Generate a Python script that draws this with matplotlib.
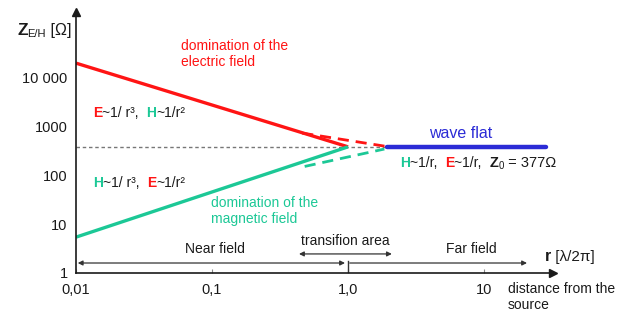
import matplotlib
matplotlib.use('Agg')

import matplotlib.pyplot as plt
import numpy as np

plt.rcParams['font.family'] = ['Liberation Sans', 'DejaVu Sans']

# Wave impedance values (r in lambda/2pi, Z in ohm)
Z0 = 377
r_e_solid = [0.01, 1.0]
z_e_solid = [19300, Z0]
r_e_dash = [0.46, 2.0]
z_e_dash = [720, Z0]
r_h_solid = [0.01, 1.0]
z_h_solid = [5.4, Z0]
r_h_dash = [0.48, 1.85]
z_h_dash = [150, 340]
r_far = [1.94, 28.6]
z_far = [Z0, Z0]

xticks = [0.01, 0.1, 1.0, 10]
xtick_labels = ['0,01', '0,1', '1,0', '10']
yticks = [1, 10, 100, 1000, 10000]
ytick_labels = ['1', '10', '100', '1000', '10 000']

RED = '#ff1414'
GREEN = '#1cc896'
BLUE = '#2b2bd6'
DARK = '#1a1a1a'

W, H = 629, 317
fig = plt.figure(figsize=(W / 100, H / 100), dpi=100)
# axes box in pixels: left 76, x-axis at y=273, arrow tips at x=553 / y=12
ax = fig.add_axes([76 / W, (H - 273) / H, (553 - 76) / W, (273 - 12) / H])
ax.set_xscale('log')
ax.set_yscale('log')
ax.set_xlim(0.01, 10 ** 1.507)
ax.set_ylim(1, 10 ** 5.33)

for s in ['top', 'right']:
    ax.spines[s].set_visible(False)
for s in ['left', 'bottom']:
    ax.spines[s].set_color(DARK)
    ax.spines[s].set_linewidth(1.2)
ax.plot(1, 0, '>', color=DARK, ms=6, transform=ax.transAxes, clip_on=False)
ax.plot(0, 1, '^', color=DARK, ms=6, transform=ax.transAxes, clip_on=False)

ax.minorticks_off()
ax.set_xticks(xticks)
ax.set_xticklabels(xtick_labels, fontsize=10.5, color=DARK)
ax.set_yticks(yticks)
ax.set_yticklabels(ytick_labels, fontsize=10.5, color=DARK)
ax.tick_params(axis='x', direction='in', length=3, width=0.8, color='#888888', pad=7)
ax.tick_params(axis='y', length=0, pad=6)

# reference line at Z0
ax.plot([0.01, r_far[0]], [Z0, Z0], color='#777777', lw=1, ls=(0, (2.5, 2)))

ax.plot(r_e_solid, z_e_solid, color=RED, lw=2.4, solid_capstyle='butt')
ax.plot(r_e_dash, z_e_dash, color=RED, lw=2, ls=(0, (4, 2.5)))
ax.plot(r_h_solid, z_h_solid, color=GREEN, lw=2.4, solid_capstyle='butt')
ax.plot(r_h_dash, z_h_dash, color=GREEN, lw=2, ls=(0, (4, 2.5)))
ax.plot(r_far, z_far, color=BLUE, lw=3.2, solid_capstyle='round')

# field region arrows
arr = dict(arrowstyle='<|-|>', color='#333333', lw=0.9, mutation_scale=7, shrinkA=0, shrinkB=0)
ax.annotate('', xy=(0.0103, 1.6), xytext=(0.95, 1.6), arrowprops=arr)
ax.annotate('', xy=(0.436, 2.45), xytext=(2.1, 2.45), arrowprops=arr)
ax.annotate('', xy=(1.03, 1.6), xytext=(20.7, 1.6),
            arrowprops=dict(arrowstyle='<|-', color='#333333', lw=0.9, mutation_scale=7,
                            shrinkA=0, shrinkB=0))
ax.plot([1, 1], [1, 1.75], color='#333333', lw=1)

ax.text(0.105, 2.2, 'Near field', fontsize=10, ha='center', va='bottom', color=DARK)
ax.text(0.96, 3.2, 'transifion area', fontsize=10, ha='center', va='bottom', color=DARK)
ax.text(8.1, 2.2, 'Far field', fontsize=10, ha='center', va='bottom', color=DARK)

renderer = fig.canvas.get_renderer()


def chain(x, y, parts):
    # parts: (text, color, weight, size, dy) drawn one after another in pixels
    for txt, col, wt, size, dy in parts:
        t = fig.text(x / W, 1 - (y + dy) / H, txt, color=col, fontweight=wt,
                     fontsize=size, va='baseline', ha='left')
        x += t.get_window_extent(renderer).width


chain(17, 35, [('Z', DARK, 'bold', 12.5, 0), ('E/H', DARK, 'normal', 8, 2),
               (' [Ω]', DARK, 'normal', 11.5, 0)])
chain(93, 117, [('E', RED, 'bold', 10, 0), ('~1/ r³,  ', DARK, 'normal', 10, 0),
                ('H', GREEN, 'bold', 10, 0), ('~1/r²', DARK, 'normal', 10, 0)])
chain(93, 187, [('H', GREEN, 'bold', 10, 0), ('~1/ r³,  ', DARK, 'normal', 10, 0),
                ('E', RED, 'bold', 10, 0), ('~1/r²', DARK, 'normal', 10, 0)])
chain(400, 167, [('H', GREEN, 'bold', 10, 0), ('~1/r,  ', DARK, 'normal', 10, 0),
                 ('E', RED, 'bold', 10, 0), ('~1/r,  ', DARK, 'normal', 10, 0),
                 ('Z', DARK, 'bold', 10.5, 0), ('0', DARK, 'normal', 7, 2),
                 (' = 377Ω', DARK, 'normal', 10.5, 0)])
chain(545, 261, [('r', DARK, 'bold', 11.5, 0), (' [λ/2π]', DARK, 'normal', 11, 0)])

fig.text(181 / W, 1 - 66 / H, 'domination of the\nelectric field', color=RED,
         fontsize=10, va='baseline', ha='left', linespacing=1.15)
fig.text(211 / W, 1 - 223 / H, 'domination of the\nmagnetic field', color=GREEN,
         fontsize=10, va='baseline', ha='left', linespacing=1.15)
fig.text(461 / W, 1 - 134 / H, 'wave flat', color=BLUE, fontsize=11.5,
         ha='center', va='center')
fig.text(508 / W, 1 - 309 / H, 'distance from the\nsource', color=DARK,
         fontsize=10, va='baseline', ha='left', linespacing=1.15)

fig.savefig('out.png', dpi=100)
plt.close(fig)
